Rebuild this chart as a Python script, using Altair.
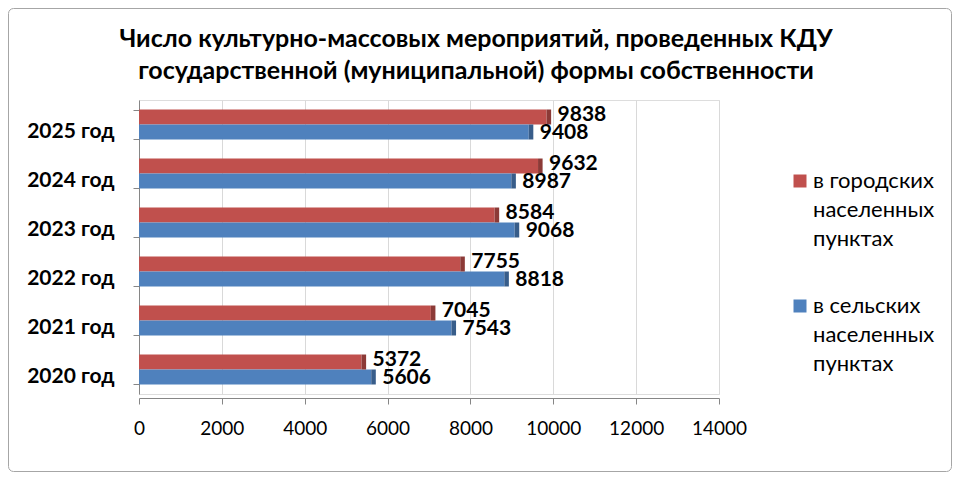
import altair as alt
import pandas as pd

years = ["2025 год", "2024 год", "2023 год", "2022 год", "2021 год", "2020 год"]
urban = [9838, 9632, 8584, 7755, 7045, 5372]
rural = [9408, 8987, 9068, 8818, 7543, 5606]
series = ["в городских\nнаселенных\nпунктах", "в сельских\nнаселенных\nпунктах"]
colors = ["#C0504D", "#4F81BD"]
cap_colors = ["#8C3A37", "#385D8A"]
x_ticks = [0, 2000, 4000, 6000, 8000, 10000, 12000, 14000]
title_lines = [
    "Число культурно-массовых мероприятий, проведенных КДУ",
    "государственной (муниципальной) формы собственности",
]

rows = []
for y, u, r in zip(years, urban, rural):
    rows.append({"year": y, "series": series[0], "value": u})
    rows.append({"year": y, "series": series[1], "value": r})
df = pd.DataFrame(rows)

FONT = "Lato"
W, H = 580, 294
PL, PT, PR, PB = 131, 92, 233, 78

y_enc = alt.Y(
    "year:N", sort=years, title=None,
    scale=alt.Scale(paddingInner=0.388, paddingOuter=0.194),
    axis=alt.Axis(labelFont=FONT, labelFontSize=21, labelFontWeight="bold",
                  labelColor="black", labelPadding=19, labelOffset=6.5,
                  tickBand="extent", tickSize=6, tickColor="#868686",
                  domainColor="#868686", grid=False),
)
yoff_enc = alt.YOffset("series:N", sort=series)

base = alt.Chart(df).encode(y=y_enc, yOffset=yoff_enc)

bars = base.mark_bar().encode(
    x=alt.X("value:Q", title=None,
            scale=alt.Scale(domain=[0, 14000], nice=False),
            axis=alt.Axis(values=x_ticks, format="d", labelFont=FONT,
                          labelFontSize=19, labelColor="black", labelPadding=15,
                          labelFlush=False, labelOverlap=False,
                          offset=4, tickSize=6, tickColor="#868686",
                          domainColor="#868686", grid=True, gridColor="#d9d9d9")),
    color=alt.Color("series:N", sort=series,
                    scale=alt.Scale(domain=series, range=colors),
                    legend=alt.Legend(title=None, orient="none", legendX=650, legendY=70,
                                      labelExpr="split(datum.label, '\\n')",
                                      labelFont=FONT, labelFontSize=22, labelColor="black",
                                      symbolType="square", symbolSize=169,
                                      symbolStrokeWidth=0, labelOffset=2,
                                      rowPadding=45, padding=0, labelLimit=300)),
)

caps = base.mark_bar().transform_calculate(cap="datum.value + 110").encode(
    x="value:Q", x2="cap:Q",
    color=alt.condition(alt.datum.series == series[0],
                        alt.value(cap_colors[0]), alt.value(cap_colors[1])),
)

label_style = dict(align="left", baseline="middle", dx=11, font=FONT,
                   fontSize=21, fontWeight="bold", color="black")
labels_urban = base.mark_text(dy=-2, **label_style).encode(
    x="value:Q", text="value:Q"
).transform_filter(alt.datum.series == series[0])
labels_rural = base.mark_text(dy=1, **label_style).encode(
    x="value:Q", text="value:Q"
).transform_filter(alt.datum.series == series[1])

frame = alt.Chart(pd.DataFrame({"a": [0]})).mark_rect(
    fillOpacity=0, stroke="#a6a6a6", strokeWidth=1, cornerRadius=5
).encode(
    x=alt.value(-PL + 0.5), x2=alt.value(W + PR - 0.5),
    y=alt.value(-PT + 0.5), y2=alt.value(H + PB - 0.5),
)

chart = alt.layer(bars, caps, labels_urban, labels_rural, frame).properties(
    width=W, height=H,
    padding={"left": PL, "top": PT, "right": PR, "bottom": PB},
    autosize=alt.AutoSizeParams(type="none"),
    title=alt.TitleParams(text=title_lines, font=FONT, fontSize=25, fontWeight="bold",
                          color="black", anchor="middle", frame="group", dx=47,
                          dy=86, lineHeight=32, offset=10),
).configure_view(stroke=None).configure(
    style={"guide-label": {"lineHeight": 29}}
)

chart.save("out.html", embed_options={"renderer": "svg", "actions": False})
